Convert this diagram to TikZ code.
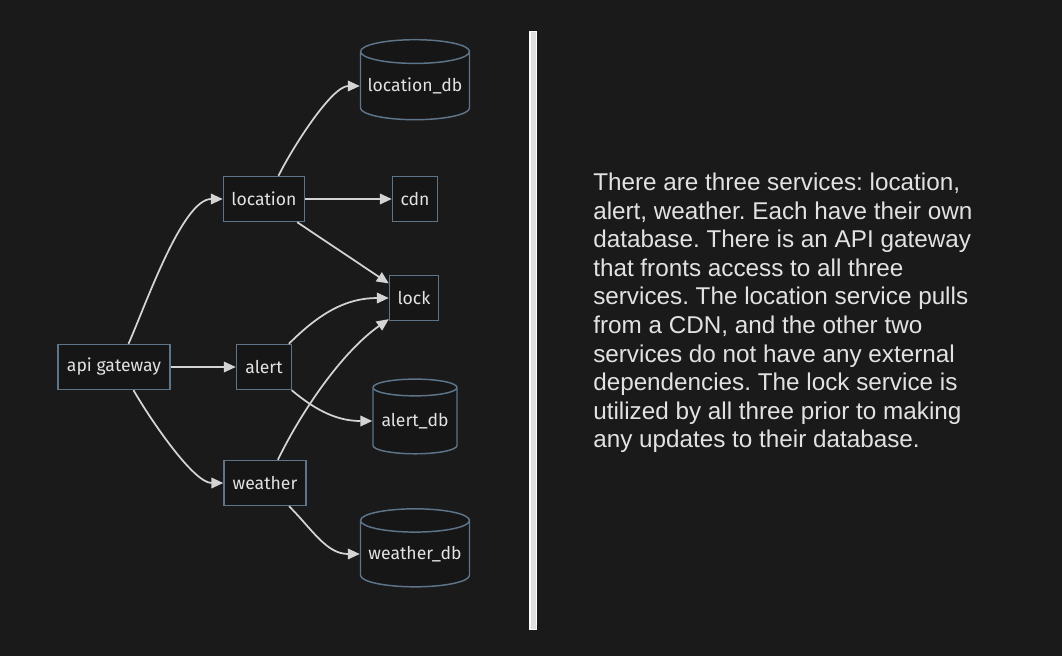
\documentclass[tikz,border=0pt]{standalone}
\usepackage{fontspec}
\setmainfont{Liberation Sans}
\newfontfamily\boxfont{Fira Sans}
\usetikzlibrary{positioning,arrows.meta,shapes.geometric}
\definecolor{bgdark}{HTML}{1A1A1A}
\definecolor{boxfill}{HTML}{161616}
\definecolor{boxline}{HTML}{5E7489}
\definecolor{inktext}{HTML}{E2E2E2}
\definecolor{wire}{HTML}{D4D4D4}
\frenchspacing

\begin{document}
\begin{tikzpicture}[x=0.75pt,y=-0.75pt,
    svc/.style={draw=boxline,fill=boxfill,line width=1.1pt,text=inktext,font=\boxfont\fontsize{13.2}{15}\selectfont,
        minimum height=33.75pt,inner xsep=0pt},
    store/.style={svc,cylinder,shape border rotate=90,shape aspect=0.25},
    flow/.style={->,>={Triangle[length=9pt,width=8pt]},draw=wire,line width=1.3pt}]
        \useasboundingbox (0,0) rectangle (1062,656);
        \fill[bgdark] (0,0) rectangle (1062,656);
        % services
        \node[svc,minimum width=84pt] (gw) at (114,367) {api gateway};
        \node[svc,minimum width=60.75pt] (loc) at (264,199) {location};
        \node[svc,minimum width=41.25pt] (alert) at (264,367) {alert};
        \node[svc,minimum width=61.5pt] (wx) at (265,483) {weather};
        \node[svc,minimum width=33.75pt] (cdn) at (415,199) {cdn};
        \node[svc,minimum width=36.75pt] (lock) at (414,298) {lock};
        % databases
        \node[store,minimum width=81.75pt,minimum height=60pt] (locdb) at (415,86) {location\_db};
        \node[store,minimum width=63pt,minimum height=56pt] (alertdb) at (415,421) {alert\_db};
        \node[store,minimum width=81.75pt,minimum height=58.5pt] (wxdb) at (415,554) {weather\_db};
        % edges
        \draw[flow] (gw.58) to[out=66,in=180,looseness=0.6] (loc.west);
        \draw[flow] (gw) -- (alert);
        \draw[flow] (gw.-50) to[out=-60,in=180,looseness=0.6] (wx.west);
        \draw[flow] (loc.58) to[out=64,in=180,looseness=0.6] (locdb.west);
        \draw[flow] (loc) -- (cdn);
        \draw[flow] (loc.-35) -- (lock.150);
        \draw[flow] (alert.43) to[out=45,in=180] (lock.west);
        \draw[flow] (wx.61) to[out=64,in=215,looseness=0.8] (lock.220);
        \draw[flow] (alert.-40) to[out=-40,in=180] (alertdb.west);
        \draw[flow] (wx.-44) to[out=-45,in=180] (wxdb.west);
        % divider
        \fill[white] (529,31) rectangle (537,630);
        \fill[black!12] (530.5,32) rectangle (535.5,629);
        % description
        \node[anchor=north west,inner sep=0pt,align=left,text=inktext,
            font=\fontsize{18.2}{21.4}\selectfont] (desc) at (593,173) {There are three services: location,\\
alert, weather. Each have their own\\
database. There is an API gateway\\
that fronts access to all three\\
services. The location service pulls\\
from a CDN, and the other two\\
services do not have any external\\
dependencies. The lock service is\\
utilized by all three prior to making\\
any updates to their database.};
    \end{tikzpicture}
\end{document}
